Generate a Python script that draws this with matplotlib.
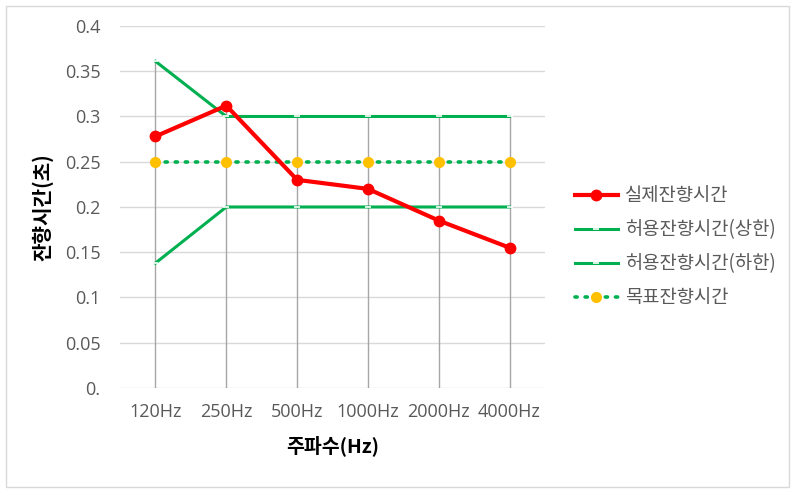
import numpy as np
import matplotlib.pyplot as plt
from matplotlib.patches import Rectangle

plt.rcParams['font.family'] = ['Noto Sans CJK KR', 'DejaVu Sans']

# data
freqs = ['120Hz', '250Hz', '500Hz', '1000Hz', '2000Hz', '4000Hz']
actual = [0.278, 0.312, 0.230, 0.220, 0.185, 0.155]
upper = [0.361, 0.300, 0.300, 0.300, 0.300, 0.300]
lower = [0.138, 0.200, 0.200, 0.200, 0.200, 0.200]
target = [0.25, 0.25, 0.25, 0.25, 0.25, 0.25]
yticks = [0, 0.05, 0.1, 0.15, 0.2, 0.25, 0.3, 0.35, 0.4]
ytick_labels = ['0.', '0.05', '0.1', '0.15', '0.2', '0.25', '0.3', '0.35', '0.4']

x = np.arange(len(freqs))
green = '#00B050'

fig = plt.figure(figsize=(7.95, 4.92), dpi=100)
ax = fig.add_axes([0.151, 0.2114, 0.5345, 0.7358])

# outer chart border
fig.patches.append(Rectangle((0.007, 0.01), 0.986, 0.978, transform=fig.transFigure,
                             fill=False, edgecolor='#d9d9d9', linewidth=1))

for y in yticks:
    ax.axhline(y, color='#d9d9d9', linewidth=1, zorder=0)

# drop lines
tops = np.max([actual, upper, lower, target], axis=0)
ax.vlines(x, 0, tops, color='#a6a6a6', linewidth=1, zorder=1)

ax.plot(x, upper, color=green, linewidth=2.2, marker='_', markersize=5,
        markeredgecolor='white', markeredgewidth=1.2, label='허용잔향시간(상한)', zorder=2)
ax.plot(x, lower, color=green, linewidth=2.2, marker='_', markersize=5,
        markeredgecolor='white', markeredgewidth=1.2, label='허용잔향시간(하한)', zorder=2)
ax.plot(x, target, color=green, linewidth=2.6, linestyle=(0, (0.6, 2.2)),
        dash_capstyle='round', marker='o', markersize=7, markerfacecolor='#FFC000',
        markeredgecolor='#FFC000', label='목표잔향시간', zorder=3)
ax.plot(x, actual, color='#FF0000', linewidth=3, marker='o', markersize=7.5,
        label='실제잔향시간', zorder=4)

ax.set_xlim(-0.5, len(freqs) - 0.5)
ax.set_ylim(0, 0.4)
ax.set_xticks(x)
ax.set_xticklabels(freqs)
ax.set_yticks(yticks)
ax.set_yticklabels(ytick_labels)
ax.tick_params(axis='both', length=0, labelsize=13, labelcolor='#595959')
ax.tick_params(axis='x', pad=11)
ax.tick_params(axis='y', pad=14)
for lab in ax.get_xticklabels() + ax.get_yticklabels():
    lab.set_family(['Open Sans', 'DejaVu Sans'])
for s in ax.spines.values():
    s.set_visible(False)

ax.set_xlabel('주파수(Hz)', fontsize=14, fontweight='bold', labelpad=10)
ax.set_ylabel('잔향시간(초)', fontsize=14.5, fontweight='bold', labelpad=8)

h, l = ax.get_legend_handles_labels()
order = [3, 0, 1, 2]
leg = ax.legend([h[i] for i in order], [l[i] for i in order], loc='center left',
                bbox_to_anchor=(1.03, 0.39), frameon=False, fontsize=13.5,
                labelcolor='#595959', handlelength=2.3, labelspacing=0.7,
                handletextpad=0.4)

fig.savefig('out.png', dpi=100)
